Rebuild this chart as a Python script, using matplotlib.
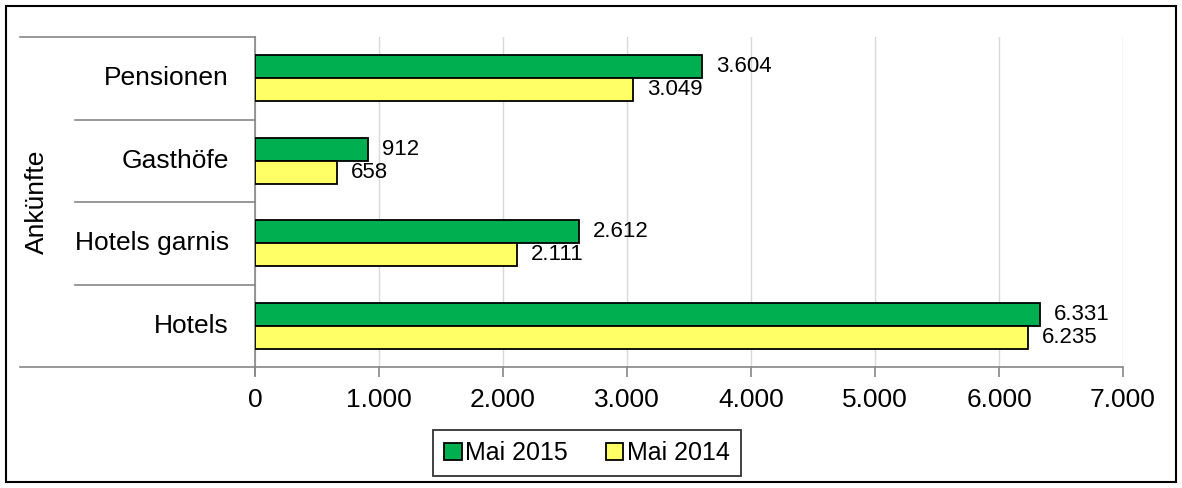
import matplotlib.pyplot as plt
import matplotlib.transforms as mtransforms
from matplotlib.patches import Rectangle
import numpy as np

plt.rcParams['font.family'] = ['Liberation Sans', 'DejaVu Sans']

# Daten
kategorien = ['Hotels', 'Hotels garnis', 'Gasthöfe', 'Pensionen']
mai_2015 = [6331, 2612, 912, 3604]
mai_2014 = [6235, 2111, 658, 3049]
x_ticks = [0, 1000, 2000, 3000, 4000, 5000, 6000, 7000]
x_labels = ['0', '1.000', '2.000', '3.000', '4.000', '5.000', '6.000', '7.000']

gruen = '#00B050'
gelb = '#FFFF66'
grau = '#868686'

fig = plt.figure(figsize=(11.82, 4.88), dpi=100)
ax = fig.add_axes([255 / 1182, 1 - 367 / 488, 868 / 1182, 330 / 488])

y = np.arange(len(kategorien))
h = 0.28
b15 = ax.barh(y + h / 2, mai_2015, height=h, color=gruen, edgecolor='black',
              linewidth=1.3, label='Mai 2015', zorder=3)
b14 = ax.barh(y - h / 2, mai_2014, height=h, color=gelb, edgecolor='black',
              linewidth=1.3, label='Mai 2014', zorder=3)

def fmt(v):
    return f'{v:,}'.replace(',', '.')

# Werte rechts neben den Balken
for bars, vals in [(b15, mai_2015), (b14, mai_2014)]:
    for bar, v in zip(bars, vals):
        ax.annotate(fmt(v), (v, bar.get_y() + bar.get_height() / 2),
                    xytext=(14, 0), textcoords='offset pixels',
                    ha='left', va='center', fontsize=16)

ax.set_xlim(0, 7000)
ax.set_ylim(-0.5, len(kategorien) - 0.5)
ax.set_xticks(x_ticks)
ax.set_xticklabels(x_labels, fontsize=19)
ax.tick_params(axis='x', length=7, color=grau, pad=8, width=1.2)
ax.set_yticks([])
ax.grid(axis='x', color='#D9D9D9', linewidth=1, zorder=0)

for s in ['top', 'right']:
    ax.spines[s].set_visible(False)
ax.spines['left'].set_color(grau)
ax.spines['bottom'].set_color(grau)
ax.spines['left'].set_linewidth(1.2)
ax.spines['bottom'].set_linewidth(1.2)
ax.spines['left'].set_bounds(-0.6, len(kategorien) - 0.5)

# Kategorien-Beschriftung (zweistufig)
trans = mtransforms.blended_transform_factory(ax.transAxes, ax.transData)
x_aussen = (20 - 255) / 868
x_innen = (75 - 255) / 868
for i, k in enumerate(kategorien):
    ax.text(-0.03, i, k, transform=trans, ha='right', va='center', fontsize=19)
for grenze in np.arange(-0.5, len(kategorien)):
    x0 = x_aussen if grenze in (-0.5, len(kategorien) - 0.5) else x_innen
    ax.plot([x0, 0], [grenze, grenze], transform=trans, color=grau,
            linewidth=1.2, clip_on=False)
ax.text(37 / 1182, 1 - 202 / 488, 'Ankünfte', transform=fig.transFigure,
        rotation=90, ha='center', va='center', fontsize=19)

leg = fig.legend(handles=[b15, b14], loc='center', bbox_to_anchor=(587 / 1182, 1 - 453 / 488),
                 ncol=2, fontsize=18, frameon=True, fancybox=False, edgecolor='black',
                 handlelength=0.7, handleheight=0.7, handletextpad=0.15, columnspacing=1.5,
                 borderpad=0.45, borderaxespad=0)
leg.get_frame().set_linewidth(1.3)

# Rahmen um die Grafik
fig.patches.append(Rectangle((6 / 1182, 6 / 488), 1170 / 1182, 476 / 488,
                             transform=fig.transFigure, fill=False,
                             edgecolor='black', linewidth=1.5))

fig.savefig('out.png', dpi=100)
